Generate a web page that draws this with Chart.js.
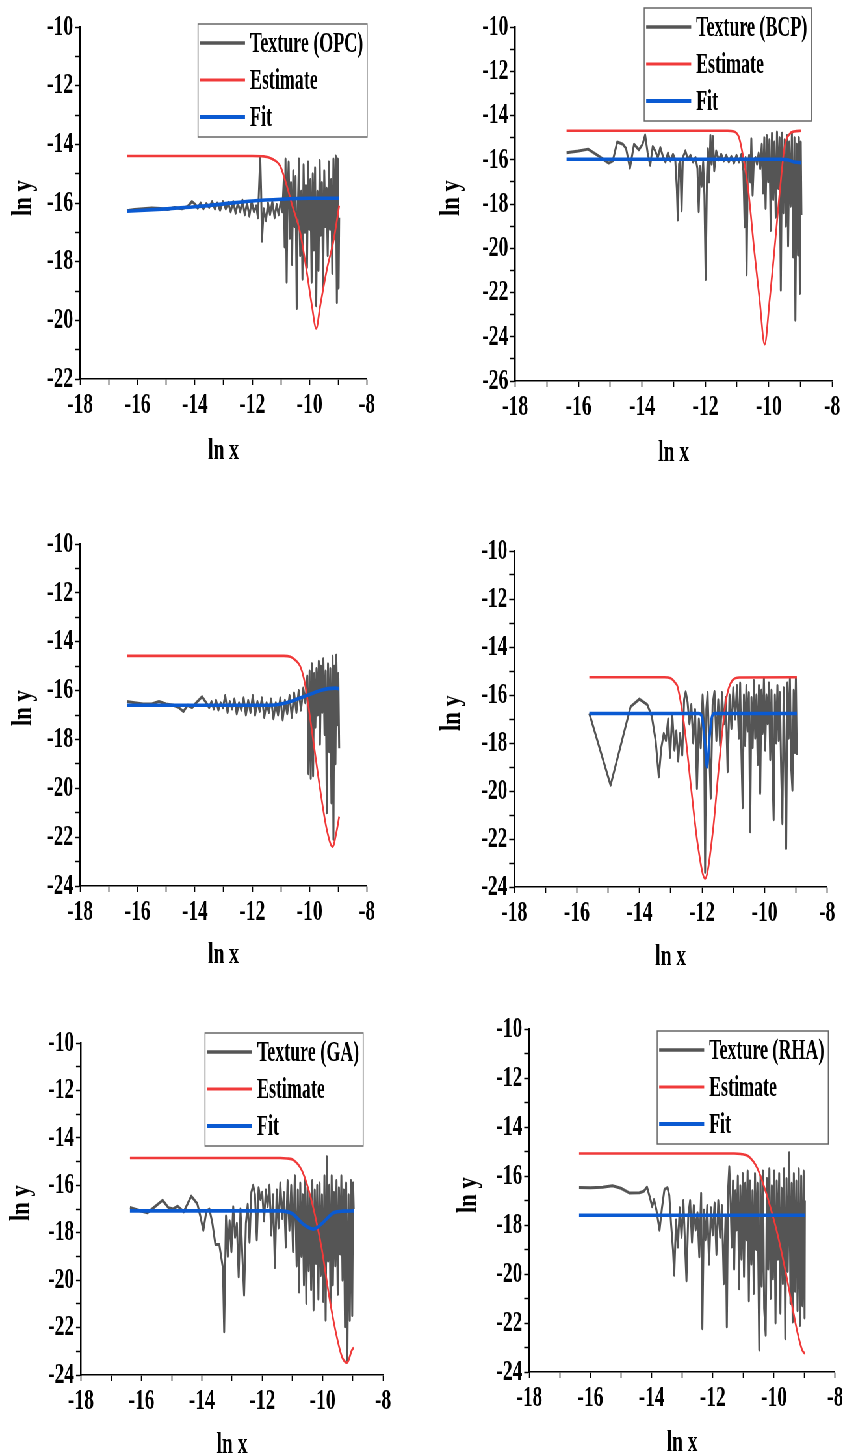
<!DOCTYPE html>
<html lang="en">
<head>
<meta charset="UTF-8">
<title>Texture / Estimate / Fit</title>
<style>
html, body { margin:0; padding:0; background:#fff; overflow:hidden; }
#wrap { position:relative; width:1325px; height:1454px; transform:scaleX(0.65); transform-origin:0 0; }
#wrap canvas { position:absolute; }
</style>
</head>
<body>
<div id="wrap"></div>
<script src="https://cdn.jsdelivr.net/npm/chart.js"></script>
<script>
// the figure is horizontally condensed, so every canvas is drawn wide and squeezed by SX
const SX = 0.65;

const xRange = [-18, -8];
const yMins = [-22, -26, -24, -24, -24, -24];
const names = ['OPC', 'BCP', 'CS', 'CSA', 'GA', 'RHA'];

// ---- OPC ----
const opcTexture = [[-16.37,-16.26],[-16.1,-16.22],[-15.8,-16.2],[-15.5,-16.17],[-15.2,-16.19],[-14.95,-16.22],[-14.7,-16.15],[-14.45,-16.2],[-14.25,-16.12],[-14.1,-15.95],[-13.98,-16.05],[-13.9,-16.18],[-13.8,-16.0],[-13.7,-16.2],[-13.6,-16.02],[-13.5,-16.15],[-13.4,-15.95],[-13.3,-16.2],[-13.22,-16.0],[-13.12,-16.25],[-13.02,-15.95],[-12.92,-16.2],[-12.84,-15.98],[-12.75,-16.3],[-12.66,-15.95],[-12.58,-16.35],[-12.5,-16.0],[-12.42,-16.3],[-12.34,-15.9],[-12.26,-16.4],[-12.18,-16.0],[-12.1,-16.45],[-12.02,-15.95],[-11.94,-16.3],[-11.86,-16.1],[-11.8,-16.5],[-11.75,-15.2],[-11.72,-14.45],[-11.69,-15.6],[-11.66,-17.3],[-11.6,-16.2],[-11.52,-16.6],[-11.45,-16.0],[-11.38,-16.4],[-11.3,-15.95],[-11.22,-16.5],[-11.15,-16.05],[-11.08,-16.4],[-11.0,-15.9],[-10.95,-16.3],
  [-10.9,-15.2],[-10.87,-17.5],[-10.84,-14.5],[-10.8,-18.7],[-10.77,-15.8],[-10.73,-14.6],[-10.69,-17.2],[-10.65,-15.3],[-10.61,-18.1],[-10.57,-14.9],[-10.53,-16.8],[-10.49,-15.1],[-10.45,-19.6],[-10.41,-16.2],[-10.37,-14.5],[-10.33,-17.8],[-10.29,-15.6],[-10.25,-18.6],[-10.21,-14.7],[-10.17,-17.0],[-10.13,-15.4],[-10.09,-18.2],[-10.05,-14.6],[-10.01,-16.9],[-9.97,-15.2],[-9.93,-18.7],[-9.89,-15.0],[-9.85,-17.6],[-9.81,-14.8],[-9.77,-19.5],[-9.73,-15.6],[-9.69,-18.3],[-9.65,-14.55],[-9.61,-17.1],[-9.57,-15.3],[-9.53,-18.9],[-9.49,-14.9],[-9.45,-16.8],[-9.41,-15.5],[-9.37,-17.8],[-9.33,-14.6],[-9.29,-16.9],[-9.25,-15.2],[-9.21,-18.4],[-9.17,-14.5],[-9.13,-17.2],[-9.09,-14.4],[-9.05,-19.4],[-9.02,-14.5],[-8.99,-18.9],[-8.97,-16.5]];
const opcEstimate = [[-16.37,-14.4],[-12,-14.4],[-11.6,-14.41],[-11.3,-14.5],[-11.02,-14.75],[-10.79,-15.43],[-10.6,-16.1],[-10.33,-17.0],[-10.09,-18.4],[-9.92,-19.5],[-9.77,-20.28],[-9.63,-19.5],[-9.4,-18.27],[-9.16,-17.25],[-8.97,-16.09]];
const opcFit = [[-16.37,-16.28],[-15,-16.2],[-14,-16.13],[-13,-16.03],[-12,-15.93],[-11,-15.87],[-10,-15.84],[-8.97,-15.84]];

// ---- BCP ----
const bcpTexture = [[-16.38,-15.68],[-16.0,-15.6],[-15.7,-15.52],[-15.35,-15.85],[-15.05,-16.15],[-14.92,-16.05],[-14.78,-15.2],[-14.6,-15.3],[-14.5,-15.5],[-14.38,-16.38],[-14.25,-15.3],[-14.1,-15.55],[-13.98,-15.3],[-13.9,-14.88],[-13.82,-15.7],[-13.74,-16.25],[-13.66,-15.4],[-13.58,-15.6],[-13.5,-15.9],[-13.42,-15.45],[-13.34,-15.85],[-13.26,-16.1],[-13.18,-15.7],[-13.1,-16.05],[-13.02,-15.75],[-12.95,-16.0],[-12.9,-17.3],[-12.87,-18.72],[-12.83,-16.2],[-12.79,-16.0],[-12.75,-18.3],[-12.71,-15.9],[-12.63,-15.6],[-12.55,-16.0],[-12.47,-15.8],[-12.39,-16.1],[-12.31,-15.9],[-12.25,-16.4],[-12.21,-18.35],[-12.17,-16.3],[-12.12,-17.2],[-12.07,-16.1],[-12.03,-17.6],[-11.99,-21.41],[-11.95,-16.8],[-11.92,-15.5],[-11.88,-17.0],[-11.84,-14.9],[-11.8,-16.2],[-11.76,-14.95],[-11.72,-16.5],[-11.66,-15.6],[-11.58,-16.0],[-11.5,-15.75],[-11.42,-16.05],[-11.34,-15.8],[-11.26,-16.1],[-11.18,-15.85],[-11.1,-16.15],[-11.02,-15.8],[-10.94,-16.1],[-10.86,-15.75],[-10.8,-16.5],[-10.76,-19.03],[-10.73,-15.9],[-10.7,-21.2],[-10.66,-16.2],[-10.62,-15.8],[-10.58,-17.0],[-10.55,-15.05],[-10.51,-17.6],[-10.47,-16.0],[-10.42,-15.9],[-10.37,-16.2],[-10.32,-15.7],[-10.27,-16.4],[-10.22,-15.3],[-10.18,-17.5],[-10.14,-15.0],[-10.1,-18.2],[-10.06,-14.9],[-10.02,-17.0],[-9.98,-15.1],[-9.94,-19.2],[-9.9,-14.8],[-9.86,-17.8],[-9.82,-15.2],[-9.78,-18.6],[-9.74,-14.75],[-9.7,-17.3],[-9.66,-15.0],[-9.62,-21.9],[-9.58,-14.8],[-9.54,-18.4],[-9.5,-15.1],[-9.46,-19.0],[-9.42,-14.9],[-9.39,-19.9],[-9.35,-15.2],[-9.31,-18.1],[-9.27,-14.8],[-9.23,-20.4],[-9.19,-15.0],[-9.16,-23.25],[-9.12,-15.3],[-9.08,-20.3],[-9.05,-15.0],[-9.02,-22.05],[-8.99,-15.2],[-8.97,-18.5]];
const bcpEstimate = [[-16.38,-14.69],[-11.3,-14.69],[-11.1,-14.72],[-10.95,-14.95],[-10.87,-15.4],[-10.66,-17.2],[-10.45,-20.2],[-10.29,-22.3],[-10.13,-24.34],[-9.97,-22.3],[-9.81,-19.9],[-9.65,-17.4],[-9.5,-15.4],[-9.35,-14.85],[-9.2,-14.72],[-8.97,-14.69]];
const bcpFit = [[-16.38,-15.98],[-9.6,-15.98],[-9.4,-16.0],[-9.2,-16.1],[-8.97,-16.13]];

// ---- CS ----
const csTexture = [[-16.37,-16.45],[-16.1,-16.5],[-15.8,-16.55],[-15.5,-16.55],[-15.25,-16.45],[-15.0,-16.55],[-14.75,-16.6],[-14.55,-16.7],[-14.4,-16.86],[-14.25,-16.6],[-14.1,-16.7],[-13.95,-16.5],[-13.75,-16.25],[-13.6,-16.5],[-13.5,-16.7],[-13.42,-16.45],[-13.34,-16.75],[-13.26,-16.4],[-13.18,-16.8],[-13.1,-16.5],[-13.02,-16.7],[-12.94,-16.2],[-12.86,-16.9],[-12.78,-16.45],[-12.7,-16.75],[-12.62,-16.35],[-12.54,-16.95],[-12.46,-16.5],[-12.38,-16.8],[-12.3,-16.3],[-12.22,-17.0],[-12.14,-16.4],[-12.06,-16.9],[-11.98,-16.2],[-11.9,-17.0],[-11.82,-16.45],[-11.74,-16.85],[-11.66,-16.3],[-11.58,-17.1],[-11.5,-16.5],[-11.42,-16.9],[-11.34,-16.35],[-11.26,-17.15],[-11.18,-16.5],[-11.1,-17.0],[-11.02,-16.3],[-10.94,-17.2],[-10.86,-16.4],[-10.78,-16.95],[-10.7,-16.2],[-10.62,-17.1],[-10.54,-16.1],[-10.46,-16.9],[-10.38,-16.0],[-10.3,-16.8],[-10.22,-15.9],[-10.15,-16.5],[-10.08,-15.4],[-10.04,-19.4],[-10.0,-15.2],[-9.96,-19.6],[-9.92,-14.9],[-9.88,-19.5],[-9.84,-15.3],[-9.8,-17.5],[-9.76,-15.1],[-9.72,-17.0],[-9.68,-14.8],[-9.64,-18.2],[-9.6,-15.0],[-9.56,-16.9],[-9.52,-14.7],[-9.48,-17.8],[-9.44,-15.2],[-9.4,-21.0],[-9.36,-14.9],[-9.32,-18.5],[-9.28,-15.1],[-9.24,-20.6],[-9.2,-14.6],[-9.17,-22.1],[-9.14,-15.0],[-9.1,-19.0],[-9.07,-14.55],[-9.03,-17.4],[-9.0,-15.3],[-8.97,-18.36]];
const csEstimate = [[-16.37,-14.58],[-10.9,-14.58],[-10.67,-14.62],[-10.5,-14.75],[-10.33,-15.0],[-10.2,-15.5],[-10.09,-16.24],[-9.86,-18.16],[-9.63,-20.07],[-9.4,-21.7],[-9.2,-22.39],[-9.05,-21.7],[-8.97,-21.16]];
const csFit = [[-16.37,-16.6],[-11.4,-16.6],[-11.0,-16.55],[-10.67,-16.45],[-10.33,-16.3],[-9.98,-16.15],[-9.63,-16.0],[-9.35,-15.92],[-9.1,-15.9],[-8.97,-15.92]];

// ---- CSA ----
const csaTexture = [[-15.6,-16.77],[-14.92,-19.76],[-14.28,-16.49],[-14.0,-16.17],[-13.75,-16.4],[-13.6,-16.9],[-13.48,-17.9],[-13.38,-19.41],[-13.3,-18.2],[-13.22,-17.6],[-13.15,-17.9],[-13.08,-17.0],[-13.02,-18.6],[-12.95,-16.8],[-12.88,-18.3],[-12.82,-17.5],[-12.76,-18.75],[-12.7,-17.6],[-12.63,-18.5],[-12.57,-16.2],[-12.52,-15.87],[-12.46,-16.3],[-12.4,-17.2],[-12.34,-16.4],[-12.28,-18.0],[-12.22,-16.6],[-12.16,-19.9],[-12.1,-17.0],[-12.04,-18.2],[-11.98,-16.0],[-11.93,-17.5],[-11.9,-23.4],[-11.86,-16.6],[-11.82,-15.9],[-11.76,-18.6],[-11.72,-20.3],[-11.66,-16.4],[-11.6,-15.85],[-11.54,-17.9],[-11.48,-16.2],[-11.42,-18.1],[-11.36,-15.9],[-11.3,-17.2],[-11.24,-16.1],[-11.18,-19.2],[-11.12,-16.0],[-11.06,-17.4],[-11.0,-15.7],[-10.94,-17.0],[-10.88,-15.6],[-10.82,-17.8],[-10.78,-15.5],[-10.74,-18.4],[-10.7,-20.7],[-10.66,-16.0],[-10.62,-18.1],[-10.58,-15.6],[-10.54,-17.5],[-10.5,-15.9],[-10.46,-21.7],[-10.42,-16.1],[-10.38,-18.2],[-10.34,-15.4],[-10.3,-17.8],[-10.26,-16.0],[-10.22,-18.9],[-10.18,-15.6],[-10.14,-20.1],[-10.1,-15.8],[-10.06,-17.6],[-10.02,-15.3],[-9.98,-18.3],[-9.94,-16.0],[-9.9,-17.2],[-9.86,-15.5],[-9.82,-18.7],[-9.78,-15.8],[-9.74,-19.6],[-9.71,-21.2],[-9.67,-16.0],[-9.63,-18.0],[-9.59,-15.6],[-9.55,-17.9],[-9.51,-15.9],[-9.47,-19.2],[-9.43,-21.36],[-9.39,-15.7],[-9.35,-18.6],[-9.31,-22.4],[-9.27,-15.5],[-9.23,-17.8],[-9.19,-15.3],[-9.15,-19.0],[-9.11,-19.97],[-9.07,-15.8],[-9.03,-18.4],[-9.0,-15.3],[-8.97,-18.5]];
const csaEstimate = [[-15.6,-15.26],[-13.2,-15.26],[-13.0,-15.3],[-12.85,-15.5],[-12.78,-15.66],[-12.56,-17.33],[-12.35,-19.83],[-12.14,-22.19],[-11.9,-23.65],[-11.66,-21.78],[-11.44,-18.72],[-11.23,-16.21],[-11.02,-15.38],[-10.8,-15.27],[-8.97,-15.26]];
const csaFit = [[-15.6,-16.77],[-12.1,-16.77],[-12.0,-16.9],[-11.92,-17.8],[-11.84,-19.0],[-11.76,-17.8],[-11.68,-16.9],[-11.6,-16.77],[-8.97,-16.77]];

// ---- GA ----
const gaTexture = [[-16.38,-16.94],[-16.1,-17.05],[-15.8,-17.16],[-15.55,-16.9],[-15.3,-16.63],[-15.1,-16.95],[-14.95,-17.0],[-14.8,-16.88],[-14.6,-17.12],[-14.35,-16.46],[-14.15,-16.78],[-14.05,-17.3],[-13.95,-17.9],[-13.85,-17.1],[-13.75,-17.0],[-13.65,-17.6],[-13.55,-18.5],[-13.42,-18.5],[-13.3,-19.5],[-13.26,-22.18],[-13.2,-17.3],[-13.14,-19.0],[-13.08,-17.5],[-13.02,-18.8],[-12.96,-16.9],[-12.9,-18.2],[-12.84,-17.6],[-12.78,-19.86],[-12.72,-17.0],[-12.66,-18.9],[-12.6,-20.63],[-12.54,-17.6],[-12.48,-16.8],[-12.42,-18.4],[-12.36,-16.3],[-12.3,-16.0],[-12.24,-16.4],[-12.18,-18.3],[-12.12,-16.1],[-12.06,-16.6],[-12.0,-16.3],[-11.94,-17.5],[-11.88,-16.2],[-11.82,-16.9],[-11.76,-16.0],[-11.7,-18.1],[-11.64,-16.4],[-11.58,-19.47],[-11.52,-16.2],[-11.46,-17.8],[-11.4,-15.9],[-11.34,-17.4],[-11.28,-16.3],[-11.22,-18.6],[-11.16,-15.8],[-11.1,-17.9],[-11.04,-16.0],[-10.98,-18.8],[-10.92,-15.6],[-10.86,-19.4],[-10.82,-16.2],[-10.78,-20.5],[-10.74,-15.9],[-10.7,-19.0],[-10.66,-16.4],[-10.62,-20.2],[-10.58,-15.7],[-10.54,-20.98],[-10.5,-16.1],[-10.46,-19.6],[-10.42,-16.5],[-10.38,-20.4],[-10.34,-15.8],[-10.3,-21.26],[-10.26,-16.2],[-10.22,-19.3],[-10.18,-16.0],[-10.14,-20.8],[-10.1,-15.9],[-10.06,-19.8],[-10.02,-16.4],[-9.98,-20.9],[-9.94,-15.6],[-9.9,-21.69],[-9.86,-14.8],[-9.82,-19.2],[-9.78,-16.0],[-9.74,-21.0],[-9.7,-15.6],[-9.66,-20.2],[-9.62,-16.3],[-9.58,-19.4],[-9.54,-15.8],[-9.5,-20.6],[-9.46,-16.1],[-9.42,-18.9],[-9.38,-15.6],[-9.34,-20.0],[-9.3,-16.2],[-9.26,-21.97],[-9.22,-15.9],[-9.18,-23.4],[-9.14,-16.4],[-9.1,-21.7],[-9.06,-15.8],[-9.02,-21.5],[-8.99,-15.9],[-8.97,-17.0]];
const gaEstimate = [[-16.38,-14.85],[-11.4,-14.85],[-11.18,-14.87],[-10.96,-14.94],[-10.69,-15.37],[-10.46,-16.21],[-10.24,-17.33],[-10.02,-18.74],[-9.8,-20.56],[-9.58,-22.1],[-9.36,-23.23],[-9.19,-23.48],[-9.03,-22.95],[-8.97,-22.85]];
const gaFit = [[-16.38,-17.08],[-11.4,-17.08],[-11.0,-17.2],[-10.63,-17.65],[-10.3,-17.85],[-9.97,-17.55],[-9.64,-17.16],[-9.3,-17.09],[-8.97,-17.08]];

// ---- RHA ----
const rhaTexture = [[-16.37,-16.47],[-16.0,-16.48],[-15.6,-16.46],[-15.28,-16.4],[-15.0,-16.5],[-14.73,-16.69],[-14.4,-16.68],[-14.25,-16.62],[-14.15,-16.45],[-14.05,-16.9],[-13.98,-17.25],[-13.92,-16.96],[-13.84,-17.4],[-13.74,-18.21],[-13.66,-17.3],[-13.58,-16.55],[-13.48,-16.47],[-13.42,-16.8],[-13.36,-18.0],[-13.3,-19.0],[-13.26,-20.05],[-13.2,-17.8],[-13.14,-18.9],[-13.08,-17.3],[-13.02,-18.5],[-12.96,-17.0],[-12.9,-19.0],[-12.86,-20.28],[-12.8,-17.6],[-12.74,-17.0],[-12.68,-18.7],[-12.62,-17.2],[-12.56,-18.2],[-12.5,-17.5],[-12.44,-19.3],[-12.38,-16.7],[-12.34,-22.23],[-12.29,-17.4],[-12.24,-18.6],[-12.18,-17.2],[-12.12,-19.6],[-12.06,-17.3],[-12.0,-18.4],[-11.94,-17.1],[-11.88,-19.2],[-11.82,-17.0],[-11.76,-18.5],[-11.7,-17.2],[-11.64,-20.4],[-11.58,-17.6],[-11.54,-22.16],[-11.5,-16.6],[-11.46,-15.62],[-11.42,-17.0],[-11.38,-18.9],[-11.34,-16.2],[-11.3,-19.8],[-11.26,-16.6],[-11.22,-18.2],[-11.18,-16.0],[-11.14,-20.6],[-11.1,-16.4],[-11.06,-19.4],[-11.02,-15.9],[-10.98,-20.1],[-10.94,-16.3],[-10.9,-18.6],[-10.86,-15.8],[-10.82,-21.1],[-10.78,-16.2],[-10.74,-19.6],[-10.7,-16.6],[-10.66,-20.8],[-10.62,-15.9],[-10.58,-19.0],[-10.54,-16.3],[-10.48,-23.1],[-10.44,-16.0],[-10.4,-20.5],[-10.36,-15.8],[-10.32,-21.4],[-10.27,-22.5],[-10.23,-16.1],[-10.19,-19.8],[-10.15,-15.7],[-10.11,-21.0],[-10.07,-16.4],[-10.03,-20.2],[-9.99,-15.8],[-9.95,-22.0],[-9.91,-16.2],[-9.87,-19.4],[-9.83,-15.9],[-9.79,-21.6],[-9.75,-16.5],[-9.71,-20.4],[-9.67,-15.7],[-9.63,-22.64],[-9.59,-16.1],[-9.55,-19.9],[-9.5,-15.05],[-9.46,-21.2],[-9.42,-16.3],[-9.39,-21.96],[-9.35,-15.9],[-9.31,-20.7],[-9.27,-16.2],[-9.23,-21.5],[-9.19,-15.7],[-9.15,-22.1],[-9.11,-16.0],[-9.07,-21.3],[-9.03,-15.8],[-9.0,-21.8],[-8.99,-17.0]];
const rhaEstimate = [[-16.37,-15.08],[-11.3,-15.08],[-11.08,-15.1],[-10.81,-15.22],[-10.54,-15.69],[-10.32,-16.44],[-10.1,-17.35],[-9.88,-18.4],[-9.67,-19.6],[-9.45,-21.0],[-9.23,-22.4],[-9.08,-23.1],[-8.99,-23.25]];
const rhaFit = [[-16.37,-17.6],[-8.99,-17.6]];

const textures = [opcTexture, bcpTexture, csTexture, csaTexture, gaTexture, rhaTexture];
const estimates = [opcEstimate, bcpEstimate, csEstimate, csaEstimate, gaEstimate, rhaEstimate];
const fits = [opcFit, bcpFit, csFit, csaFit, gaFit, rhaFit];

// page-pixel layout of each panel: canvas cell, plot box, titles, legend box corner
const layout = [
  {cx:0,   cy:0,    cw:421, ch:490, L:80,  R:367, T:27,   B:379,  yt:[24,198],   xt:451,  lg:[198,24]},
  {cx:421, cy:0,    cw:440, ch:490, L:515, R:832, T:27,   B:381,  yt:[451,198],  xt:453,  lg:[644,8]},
  {cx:0,   cy:490,  cw:421, ch:510, L:80,  R:367, T:544,  B:886,  yt:[24,708],   xt:955,  lg:[198,34]},
  {cx:421, cy:490,  cw:440, ch:510, L:514, R:827, T:551,  B:887,  yt:[452,713],  xt:957,  lg:[643,42]},
  {cx:0,   cy:1000, cw:421, ch:454, L:81,  R:383, T:1043, B:1375, yt:[22,1203],  xt:1445, lg:[205,1033]},
  {cx:421, cy:1000, cw:440, ch:454, L:529, R:835, T:1029, B:1372, yt:[469,1195], xt:1443, lg:[657,1031]}
];

const FONT = 'Liberation Serif';
const toXY = arr => arr.map(([x, y]) => ({x, y}));

function decorate(chart, p) {
  const ctx = chart.ctx;
  const X = px => (px - p.cx) / SX, Y = py => py - p.cy;
  const a = chart.chartArea;
  ctx.save();
  ctx.fillStyle = '#000';
  ctx.textAlign = 'center';
  ctx.textBaseline = 'middle';
  ctx.font = `bold 30px "${FONT}"`;
  ctx.fillText('ln x', (a.left + a.right) / 2, Y(p.xt));

  ctx.save();
  ctx.translate(X(p.yt[0]), Y(p.yt[1]));
  ctx.rotate(-Math.PI / 2);
  ctx.scale(0.78, 1 / SX);
  ctx.font = `bold 29px "${FONT}"`;
  ctx.fillText('ln y', 0, 0);
  ctx.restore();

  // legend box inside the frame (text a little more condensed than the rest)
  const K = 0.92;
  ctx.font = `bold 30px "${FONT}"`;
  const sets = chart.data.datasets;
  const tw = K * Math.max(...sets.map(d => ctx.measureText(d.label).width));
  const bx = X(p.lg[0]), by = Y(p.lg[1]);
  const bw = 56 / SX + tw, bh = 113;
  ctx.fillStyle = '#fff';
  ctx.fillRect(bx, by, bw, bh);
  ctx.strokeStyle = '#666';
  ctx.lineWidth = 1.5;
  ctx.strokeRect(bx, by, bw, bh);
  ctx.textAlign = 'left';
  sets.forEach((d, i) => {
    const ry = by + 19 + i * 37;
    ctx.strokeStyle = d.borderColor;
    ctx.lineWidth = d.borderWidth + 0.6;
    ctx.beginPath();
    ctx.moveTo(bx + 2 / SX, ry);
    ctx.lineTo(bx + 47 / SX, ry);
    ctx.stroke();
    ctx.save();
    ctx.translate(bx + 52 / SX, ry + 1);
    ctx.scale(K, 1);
    ctx.fillStyle = '#000';
    ctx.fillText(d.label, 0, 0);
    ctx.restore();
  });
  ctx.restore();
}

const wrap = document.getElementById('wrap');
layout.forEach((p, i) => {
  const cv = document.createElement('canvas');
  const w = Math.round(p.cw / SX);
  cv.width = w;
  cv.height = p.ch;
  cv.style.left = (p.cx / SX) + 'px';
  cv.style.top = p.cy + 'px';
  cv.style.width = w + 'px';
  cv.style.height = p.ch + 'px';
  wrap.appendChild(cv);

  const yAxisW = (p.L - p.cx) / SX;
  const xAxisH = p.cy + p.ch - p.B;
  const padR = w - (p.R - p.cx) / SX;
  const tickFont = {family: FONT, size: 30, weight: 'bold'};
  const evenOnly = v => (v % 2 === 0 ? String(v) : '');

  new Chart(cv, {
    type: 'line',
    data: {
      datasets: [
        {label: `Texture (${names[i]})`, data: toXY(textures[i]), borderColor: '#555555', borderWidth: 3, tension: 0, borderJoinStyle: 'round', order: 3},
        {label: 'Estimate', data: toXY(estimates[i]), borderColor: '#f03a3a', borderWidth: 2.6, cubicInterpolationMode: 'monotone', order: 2},
        {label: 'Fit', data: toXY(fits[i]), borderColor: '#0a5ad2', borderWidth: 3.6, cubicInterpolationMode: 'monotone', order: 1}
      ]
    },
    options: {
      responsive: false,
      animation: false,
      devicePixelRatio: 1,
      layout: {padding: {left: 0, top: p.T - p.cy, right: padR, bottom: 0}},
      elements: {point: {radius: 0}},
      plugins: {legend: {display: false}, tooltip: {enabled: false}},
      scales: {
        x: {
          type: 'linear', min: xRange[0], max: xRange[1], offset: false,
          ticks: {stepSize: 1, autoSkip: false, maxRotation: 0, color: '#000', font: tickFont, padding: 2, callback: evenOnly},
          grid: {drawOnChartArea: false, drawTicks: true, tickLength: 6, tickColor: '#000', tickWidth: 1.6},
          border: {display: true, color: '#000', width: 1.6},
          afterFit: s => { s.height = xAxisH; }
        },
        y: {
          type: 'linear', min: yMins[i], max: -10, offset: false,
          ticks: {stepSize: 1, autoSkip: false, color: '#000', font: tickFont, padding: 3, callback: evenOnly},
          grid: {drawOnChartArea: false, drawTicks: true, tickLength: 5 / SX, tickColor: '#000', tickWidth: 1.5},
          border: {display: true, color: '#000', width: 1.6 / SX},
          afterFit: s => { s.width = yAxisW; }
        }
      }
    },
    plugins: [{id: 'decor', afterDraw: c => decorate(c, p)}]
  });
});
</script>
</body>
</html>
